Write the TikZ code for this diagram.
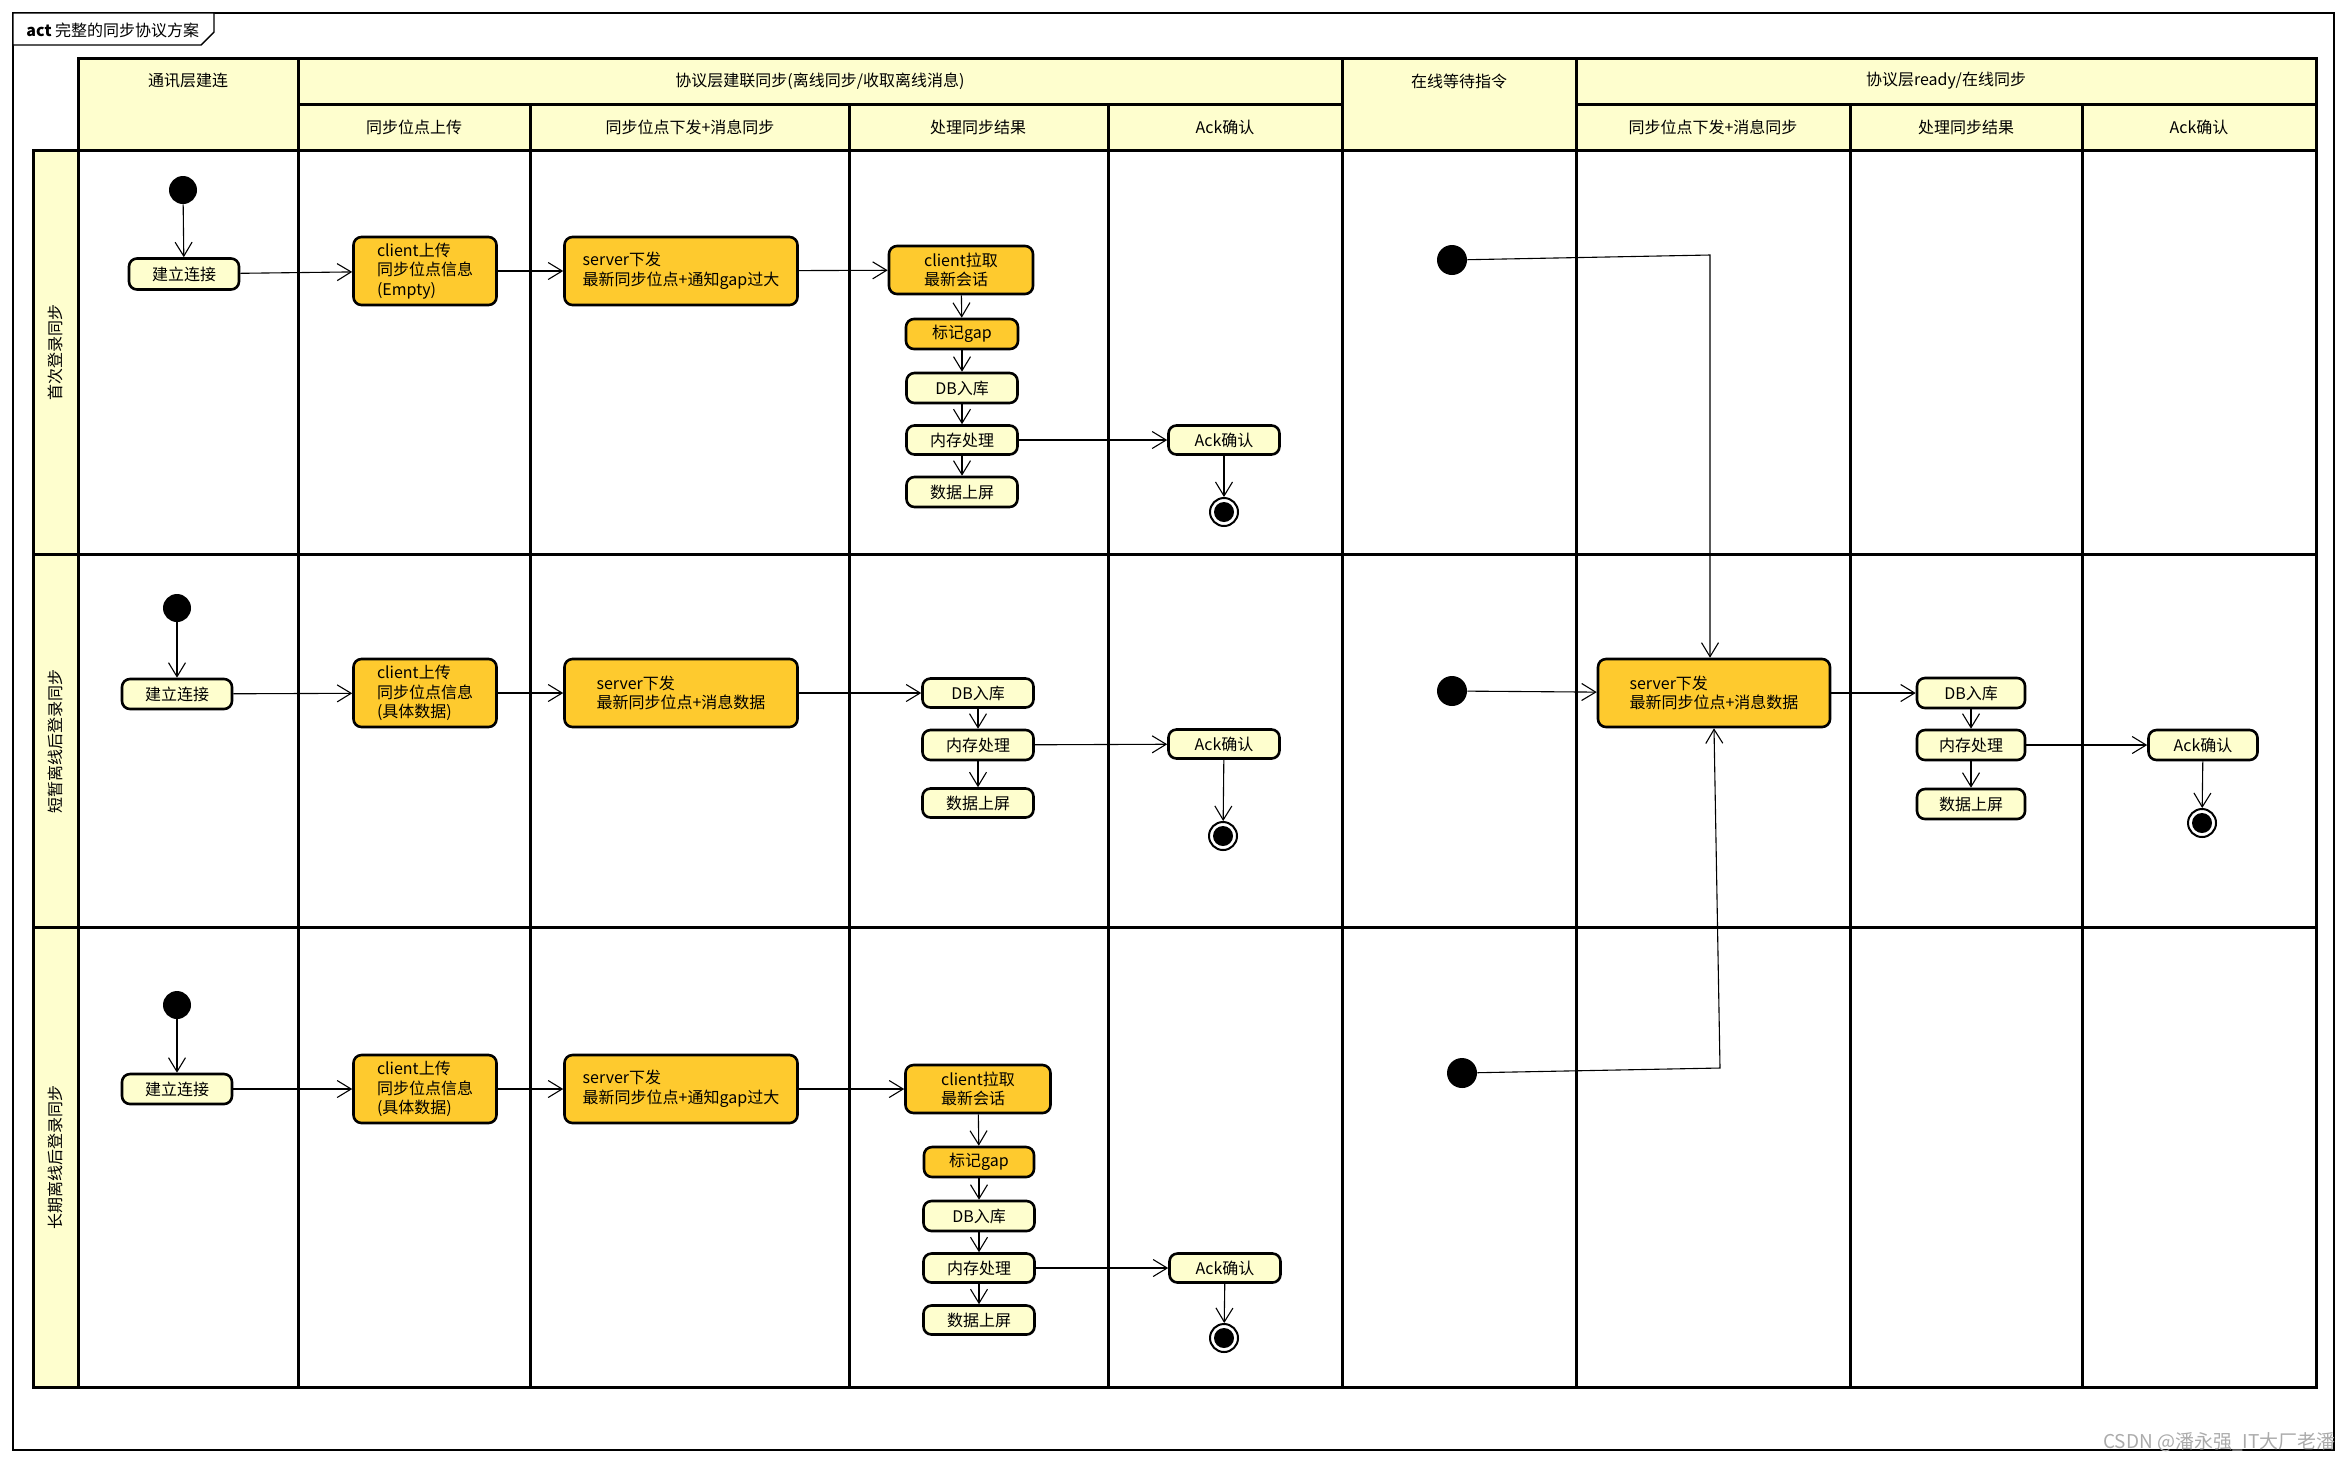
\documentclass[tikz,border=0pt]{standalone}
\usepackage{fontspec}
\setmainfont{Noto Sans CJK SC}
\usetikzlibrary{arrows.meta}
\definecolor{lyel}{HTML}{FEFECE}
\definecolor{oyel}{HTML}{FECA2E}
\definecolor{wmgray}{HTML}{ABABAB}
\begin{document}
\begin{tikzpicture}[x=0.5pt,y=-0.5pt,
  txt/.style={font=\fontsize{8}{9.8}\selectfont, inner sep=0pt},
  gridline/.style={line width=1.5pt, line cap=rect},
  act/.style={txt, draw, line width=1.3pt, rounded corners=4pt, fill=lyel, align=center, minimum width=55.5pt, minimum height=15pt},
  hot/.style={act, fill=oyel, align=left},
  init/.style={circle, fill=black, inner sep=0pt, minimum size=14pt},
  final/.style={circle, draw, line width=1pt, fill=white, inner sep=0pt, minimum size=14pt,
     path picture={\fill[black] (path picture bounding box.center) circle (5pt);}},
  arr/.style={line width=0.55pt, -{Straight Barb[length=7pt,width=8.5pt,line width=0.55pt]}},
  flow/.style={line width=0.55pt}]
\useasboundingbox (0,0) rectangle (2349,1464);
% outer frame and title tab
\draw[line width=0.7pt] (13,13) rectangle (2334,1450);
\draw[line width=0.7pt, fill=white] (13,13) -- (214,13) -- (214,32) -- (201,45) -- (13,45) -- cycle;
\node[txt, anchor=west] (title) at (26,30) {\textbf{act} 完整的同步协议方案};
% fills
\fill[lyel] (78,58) rectangle (2316,150);
\fill[lyel] (33,150) rectangle (78,1387);
% grid
\draw[gridline] (78,58) -- (2316,58);
\draw[gridline] (298,104) -- (1342,104) (1576,104) -- (2316,104);
\foreach \y in {150,554,927,1387} \draw[gridline] (33,\y) -- (2316,\y);
\draw[gridline] (33,150) -- (33,1387);
\foreach \x in {78,298,1342,1576,2316} \draw[gridline] (\x,58) -- (\x,1387);
\foreach \x in {530,849,1108,1850,2082} \draw[gridline] (\x,104) -- (\x,1387);
% header texts
\node[txt] (h1) at (188,81) {通讯层建连};
\node[txt] (h2) at (820,81) {协议层建联同步(离线同步/收取离线消息)};
\node[txt] (h3) at (1459,81) {在线等待指令};
\node[txt] (h4) at (1946,81) {协议层ready/在线同步};
\node[txt] (sh1) at (414,127) {同步位点上传};
\node[txt] (sh2) at (690,127) {同步位点下发+消息同步};
\node[txt] (sh3) at (978,127) {处理同步结果};
\node[txt] (sh4) at (1225,127) {Ack确认};
\node[txt] (sh5) at (1713,127) {同步位点下发+消息同步};
\node[txt] (sh6) at (1966,127) {处理同步结果};
\node[txt] (sh7) at (2199,127) {Ack确认};
% lane labels
\node[txt, rotate=90] (lane1) at (55,352) {首次登录同步};
\node[txt, rotate=90] (lane2) at (55,741) {短暂离线后登录同步};
\node[txt, rotate=90] (lane3) at (55,1157) {长期离线后登录同步};

% ---------- lane 1 ----------
\node[init] (s1) at (183,190) {};
\node[act, minimum width=55pt, minimum height=15.5pt] (c1) at (184,274) {建立连接};
\node[hot, minimum width=71.5pt, minimum height=34pt] (u1) at (425,271) {client上传\\同步位点信息\\(Empty)};
\node[hot, minimum width=116.5pt, minimum height=34pt] (d1) at (681,271) {server下发\\最新同步位点+通知gap过大};
\node[hot, minimum width=72pt, minimum height=24pt] (p1) at (961,270) {client拉取\\最新会话};
\node[act, fill=oyel, minimum width=56pt] (g1) at (962,334) {标记gap};
\node[act] (db1) at (962,388) {DB入库};
\node[act, minimum height=14.5pt] (m1) at (962,440) {内存处理};
\node[act] (sc1) at (962,492) {数据上屏};
\node[act, minimum height=14.5pt] (a1) at (1224,440) {Ack确认};
\node[final] (e1) at (1224,512) {};
\node[init, minimum size=15pt] (w1) at (1452,260) {};

% ---------- lane 2 ----------
\node[init] (s2) at (177,608) {};
\node[act, minimum width=55pt] (c2) at (177,694) {建立连接};
\node[hot, minimum width=71.5pt, minimum height=34pt] (u2) at (425,693) {client上传\\同步位点信息\\(具体数据)};
\node[hot, minimum width=116.5pt, minimum height=34pt] (d2) at (681,693) {server下发\\最新同步位点+消息数据};
\node[act, minimum height=14.5pt] (db2) at (978,693) {DB入库};
\node[act] (m2) at (978,745) {内存处理};
\node[act, minimum height=14.5pt] (sc2) at (978,803) {数据上屏};
\node[act, minimum height=14.5pt] (a2) at (1224,744) {Ack确认};
\node[final] (e2) at (1223,836) {};
\node[init, minimum size=15pt] (w2) at (1452,691) {};
\node[hot, minimum width=116pt, minimum height=34pt] (r2) at (1714,693) {server下发\\最新同步位点+消息数据};
\node[act, minimum width=54pt] (db3) at (1971,693) {DB入库};
\node[act, minimum width=54pt] (m3) at (1971,745) {内存处理};
\node[act, minimum width=54pt] (sc3) at (1971,804) {数据上屏};
\node[act, minimum width=54.5pt] (a3) at (2203,745) {Ack确认};
\node[final] (e3) at (2202,823) {};

% ---------- lane 3 ----------
\node[init] (s3) at (177,1005) {};
\node[act, minimum width=55pt] (c3) at (177,1089) {建立连接};
\node[hot, minimum width=71.5pt, minimum height=34pt] (u3) at (425,1089) {client上传\\同步位点信息\\(具体数据)};
\node[hot, minimum width=116.5pt, minimum height=34pt] (d3) at (681,1089) {server下发\\最新同步位点+通知gap过大};
\node[hot, minimum width=72.5pt, minimum height=24pt] (p3) at (978,1089) {client拉取\\最新会话};
\node[act, fill=oyel, minimum width=55pt] (g3) at (979,1162) {标记gap};
\node[act] (db4) at (979,1216) {DB入库};
\node[act, minimum height=14.5pt] (m4) at (979,1268) {内存处理};
\node[act, minimum height=14.5pt] (sc4) at (979,1320) {数据上屏};
\node[act, minimum height=14.5pt] (a4) at (1225,1268) {Ack确认};
\node[final] (e4) at (1224,1338) {};
\node[init, minimum size=15pt] (w3) at (1462,1073) {};

% ---------- connectors ----------
\draw[arr] (s1) -- (c1);
\draw[arr] (c1) -- (u1);
\draw[arr] (u1) -- (d1);
\draw[arr] (d1) -- (p1);
\draw[arr] (p1) -- (g1);
\draw[arr] (g1) -- (db1);
\draw[arr] (db1) -- (m1);
\draw[arr] (m1) -- (sc1);
\draw[arr] (m1) -- (a1);
\draw[arr] (a1) -- (e1);

\draw[arr] (s2) -- (c2);
\draw[arr] (c2) -- (u2);
\draw[arr] (u2) -- (d2);
\draw[arr] (d2) -- (db2);
\draw[arr] (db2) -- (m2);
\draw[arr] (m2) -- (sc2);
\draw[arr] (m2) -- (a2);
\draw[arr] (a2) -- (e2);
\draw[arr] (w2) -- (r2);
\draw[arr] (r2) -- (db3);
\draw[arr] (db3) -- (m3);
\draw[arr] (m3) -- (sc3);
\draw[arr] (m3) -- (a3);
\draw[arr] (a3) -- (e3);

\draw[arr] (s3) -- (c3);
\draw[arr] (c3) -- (u3);
\draw[arr] (u3) -- (d3);
\draw[arr] (d3) -- (p3);
\draw[arr] (p3) -- (g3);
\draw[arr] (g3) -- (db4);
\draw[arr] (db4) -- (m4);
\draw[arr] (m4) -- (sc4);
\draw[arr] (m4) -- (a4);
\draw[arr] (a4) -- (e4);

\coordinate (k1) at (1710,255);
\coordinate (k2) at (1720,1068);
\draw[arr] (w1) -- (k1) -- (k1 |- r2.north);
\draw[arr] (w3) -- (k2) -- (r2.south);

% watermark
\node[txt, anchor=east, text=wmgray, font=\fontsize{9.5}{11}\selectfont] (wmk) at (2336,1442) {CSDN @潘永强\_IT大厂老潘};
\end{tikzpicture}
\end{document}
